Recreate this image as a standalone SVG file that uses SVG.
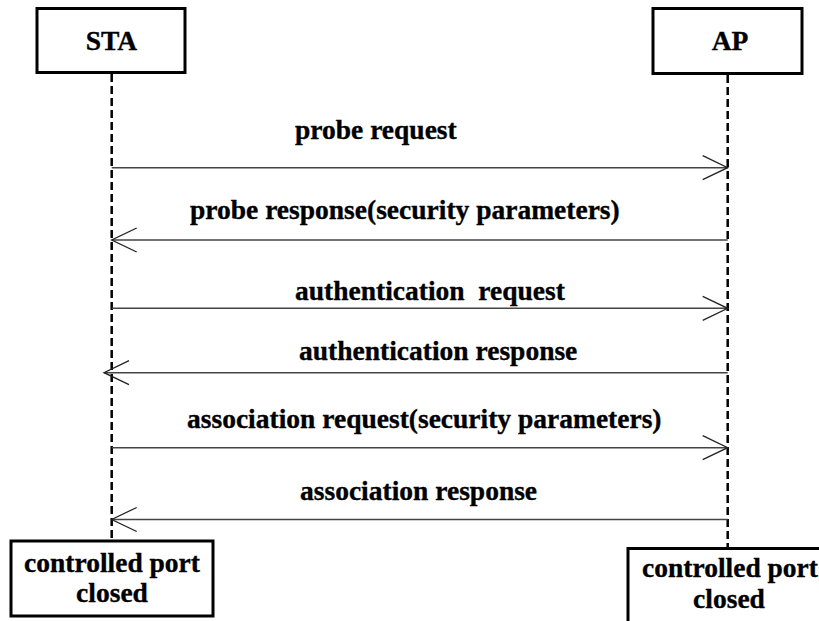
<svg xmlns="http://www.w3.org/2000/svg" width="819" height="621" viewBox="0 0 819 621">
  <style>
    .box { fill: #ffffff; stroke: #000000; stroke-width: 3; }
    .life { stroke: #000000; stroke-width: 2.5; stroke-dasharray: 8 4; fill: none; }
    .msg { stroke: #444444; stroke-width: 1.4; fill: none; marker-end: url(#open); }
    .lbl { font-family: "Liberation Serif", "Times New Roman", serif; font-weight: bold; font-size: 27.5px; fill: #000000; stroke: #000000; stroke-width: 0.35; white-space: pre; }
    .mid { text-anchor: middle; }
  </style>
  <defs>
    <marker id="open" viewBox="-27 -14 29 28" markerWidth="29" markerHeight="28" refX="0" refY="0" orient="auto" markerUnits="userSpaceOnUse">
      <path d="M-25,-12 L0,0 L-25,12" fill="none" stroke="#222222" stroke-width="1.3"/>
    </marker>
  </defs>

  <!-- participants -->
  <g id="sta">
    <rect class="box" x="37" y="8.5" width="148" height="64"/>
    <text class="lbl mid" x="111.5" y="50">STA</text>
  </g>
  <g id="ap">
    <rect class="box" x="653" y="8.5" width="149" height="65"/>
    <text class="lbl mid" x="730" y="49.5">AP</text>
  </g>

  <!-- lifelines -->
  <g id="lifelines">
    <line class="life" x1="111.7" y1="74" x2="111.7" y2="541"/>
    <line class="life" x1="727.7" y1="75" x2="727.7" y2="548"/>
  </g>

  <!-- port state boxes -->
  <g id="sta-port">
    <rect class="box" x="11" y="541" width="202" height="75"/>
    <text class="lbl mid" x="112" y="572">controlled port</text>
    <text class="lbl mid" x="112" y="602">closed</text>
  </g>
  <g id="ap-port">
    <rect class="box" x="628" y="548.5" width="204" height="80"/>
    <text class="lbl mid" x="730" y="577">controlled port</text>
    <text class="lbl mid" x="729" y="608">closed</text>
  </g>

  <!-- messages -->
  <g id="connectors">
    <line class="msg" x1="111.7" y1="167.7" x2="727.7" y2="167.7"/>
    <line class="msg" x1="727.7" y1="240" x2="111.7" y2="240"/>
    <line class="msg" x1="111.7" y1="308.3" x2="727.7" y2="308.3"/>
    <line class="msg" x1="727.7" y1="372.7" x2="104" y2="372.7"/>
    <line class="msg" x1="111.7" y1="447.7" x2="727.7" y2="447.7"/>
    <line class="msg" x1="727.7" y1="519.5" x2="111.7" y2="519.5"/>
  </g>

  <!-- message labels -->
  <g id="labels">
    <text class="lbl" x="295" y="139">probe request</text>
    <text class="lbl" x="190" y="218.5">probe response(security parameters)</text>
    <text class="lbl" x="295" y="300">authentication  request</text>
    <text class="lbl" x="299" y="360">authentication response</text>
    <text class="lbl" x="187" y="427.5">association request(security parameters)</text>
    <text class="lbl" x="300" y="500">association response</text>
  </g>
</svg>
